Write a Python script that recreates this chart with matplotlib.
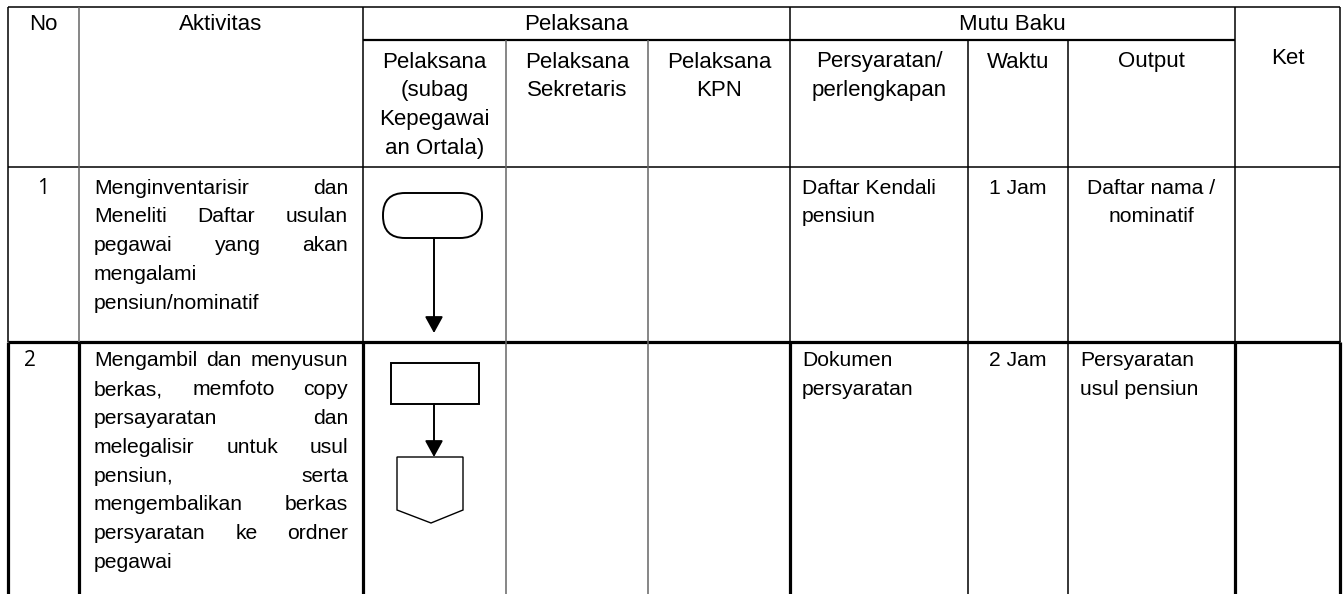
import matplotlib.pyplot as plt
from matplotlib.patches import FancyBboxPatch, Rectangle, Polygon, FancyArrowPatch

plt.rcParams['font.family'] = ['Liberation Sans', 'DejaVu Sans']

W, H = 1344, 594

# table grid (pixels)
col_x = [8, 79, 363, 506, 648, 790, 968, 1068, 1235, 1340]
row_y = [7, 40, 167, 342, 594]

# header texts
top_headers = ['No', 'Aktivitas', 'Pelaksana', 'Mutu Baku', 'Ket']
sub_headers = [['Pelaksana', '(subag', 'Kepegawai', 'an Ortala)'],
               ['Pelaksana', 'Sekretaris'],
               ['Pelaksana', 'KPN'],
               ['Persyaratan/', 'perlengkapan'],
               ['Waktu'],
               ['Output']]

# rows
no_labels = ['1', '2']
aktivitas = [
    ['Menginventarisir dan', 'Meneliti Daftar usulan', 'pegawai yang akan',
     'mengalami', 'pensiun/nominatif'],
    ['Mengambil dan menyusun', 'berkas, memfoto copy', 'persayaratan dan',
     'melegalisir untuk usul', 'pensiun, serta', 'mengembalikan berkas',
     'persyaratan ke ordner', 'pegawai'],
]
persyaratan = [['Daftar Kendali', 'pensiun'], ['Dokumen', 'persyaratan']]
waktu = ['1 Jam', '2 Jam']
output = [['Daftar nama /', 'nominatif'], ['Persyaratan', 'usul pensiun']]

FS_HEAD = 16
FS = 15.2
LS = 28.8   # line spacing in px

fig = plt.figure(figsize=(W / 100, H / 100), dpi=100)
ax = fig.add_axes([0, 0, 1, 1])
ax.set_xlim(0, W)
ax.set_ylim(H, 0)
ax.axis('off')
renderer = fig.canvas.get_renderer()


def hline(y, x0, x1, lw=1.0, color='black'):
    ax.plot([x0, x1], [y, y], color=color, lw=lw, solid_capstyle='butt')


def vline(x, y0, y1, lw=1.0, color='black'):
    ax.plot([x, x], [y0, y1], color=color, lw=lw, solid_capstyle='butt')


def lines_text(lines, x, y, ha='center', fs=FS):
    for i, s in enumerate(lines):
        ax.text(x, y + i * LS, s, ha=ha, va='center', fontsize=fs)


def justified(lines, x0, x1, y):
    # word-justified paragraph, last line left aligned
    for i, s in enumerate(lines):
        words = s.split()
        yy = y + i * LS
        if len(words) < 2 or i == len(lines) - 1:
            ax.text(x0, yy, s, ha='left', va='center', fontsize=FS)
            continue
        arts = [ax.text(0, yy, w, ha='left', va='center', fontsize=FS) for w in words]
        widths = [a.get_window_extent(renderer).width for a in arts]
        gap = (x1 - x0 - sum(widths)) / (len(words) - 1)
        xx = x0
        for a, w in zip(arts, widths):
            a.set_x(xx)
            xx += w + gap


# --- grid lines ---
thin, thick = 1.1, 2.3
grey = '#666666'
hline(row_y[0], col_x[0], col_x[-1], thin)
hline(row_y[1], col_x[2], col_x[8], 1.6)
hline(row_y[2], col_x[0], col_x[-1], thin)
hline(row_y[3], col_x[0], col_x[-1], thick)

for x in [col_x[0], col_x[1], col_x[2], col_x[5], col_x[8], col_x[9]]:
    vline(x, row_y[0], row_y[3], thin, grey if x == col_x[1] else 'black')
    vline(x, row_y[3], row_y[4], thick)
for x in [col_x[3], col_x[4]]:
    vline(x, row_y[1], row_y[4], thin, grey)
for x in [col_x[6], col_x[7]]:
    vline(x, row_y[1], row_y[4], thin)

# --- header texts ---
mid = lambda a, b: (col_x[a] + col_x[b]) / 2
ax.text(mid(0, 1), 24, top_headers[0], ha='center', va='center', fontsize=FS_HEAD)
ax.text(mid(1, 2), 24, top_headers[1], ha='center', va='center', fontsize=FS_HEAD)
ax.text(mid(2, 5), 24, top_headers[2], ha='center', va='center', fontsize=FS_HEAD)
ax.text(mid(5, 8), 24, top_headers[3], ha='center', va='center', fontsize=FS_HEAD)
ax.text(mid(8, 9), 58, top_headers[4], ha='center', va='center', fontsize=FS_HEAD)
for k, lines in enumerate(sub_headers):
    lines_text(lines, mid(2 + k, 3 + k), 62, ha='center', fs=FS_HEAD)

# --- body rows ---
row_top = [188, 361]
for r in range(2):
    y = row_top[r]
    if r == 0:
        ax.text(mid(0, 1), y, no_labels[r], ha='center', va='center',
                fontsize=15, family=['Open Sans', 'DejaVu Sans'])
    else:
        ax.text(24, y, no_labels[r], ha='left', va='center',
                fontsize=15, family=['Open Sans', 'DejaVu Sans'])
    justified(aktivitas[r], 94, 348, y)
    lines_text(persyaratan[r], 802, y, ha='left')
    ax.text(mid(6, 7), y, waktu[r], ha='center', va='center', fontsize=FS)
    if r == 0:
        lines_text(output[r], mid(7, 8), y, ha='center')
    else:
        lines_text(output[r], 1080, y, ha='left')

# --- flowchart symbols ---
cx = 434
term = FancyBboxPatch((383, 193), 99, 45, boxstyle='round,pad=0,rounding_size=22',
                      fc='white', ec='black', lw=1.4)
ax.add_patch(term)
ax.add_patch(FancyArrowPatch((cx, 238), (cx, 333), arrowstyle='-|>,head_length=10,head_width=5.5',
                             mutation_scale=1, color='black', lw=1.4, shrinkA=0, shrinkB=0))

ax.add_patch(Rectangle((391, 363), 88, 41, fc='white', ec='black', lw=1.4))
ax.add_patch(FancyArrowPatch((cx, 404), (cx, 457), arrowstyle='-|>,head_length=10,head_width=5.5',
                             mutation_scale=1, color='black', lw=1.4, shrinkA=0, shrinkB=0))
ax.add_patch(Polygon([(397, 457), (463, 457), (463, 510), (431, 523), (397, 510)],
                     closed=True, fc='white', ec='black', lw=1.0))

fig.savefig('out.png', dpi=100)
